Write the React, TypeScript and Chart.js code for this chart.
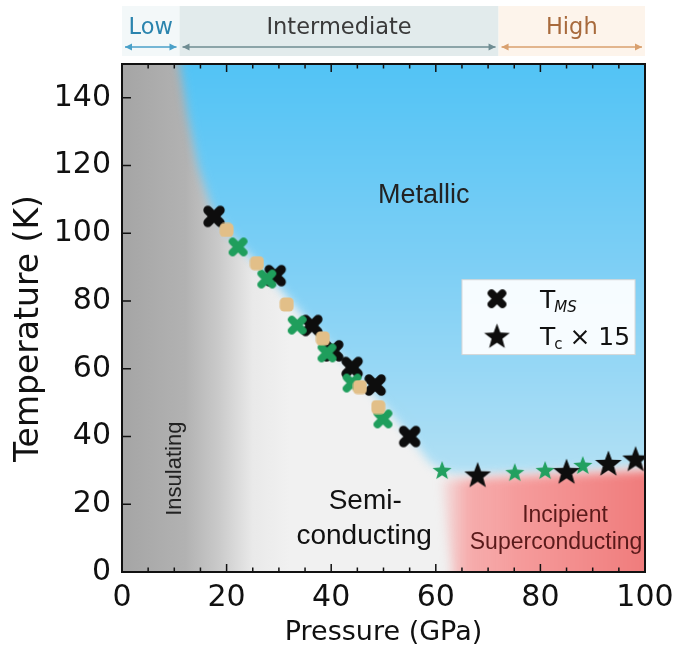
import React, { useEffect, useRef } from 'react';
import { Chart, registerables } from 'chart.js';
Chart.register(...registerables);

// ---- data (Pressure GPa, Temperature K) ----
const tmsP = [17.6, 29.3, 36.3, 40.3, 44.0, 48.4, 55.0];
const tmsT = [105, 87.5, 72.8, 65.3, 60.4, 55.2, 40];
const greenXP = [22.2, 27.7, 33.5, 39.2, 44.0, 49.9];
const greenXT = [96, 86.5, 72.9, 64.7, 55.8, 45.2];
const tanP = [20.0, 25.8, 31.5, 38.4, 45.5, 49.0];
const tanT = [101, 91.2, 79, 69, 54.6, 48.7];
const tcP = [68, 85, 93, 98.2];
const tcT = [28.8, 29.8, 32.2, 33.5];
const greenStarP = [61.2, 75.1, 80.9, 88.1];
const greenStarT = [30.1, 29.5, 30.1, 31.6];

const xMajorTicks = [0, 20, 40, 60, 80, 100];
const xMinorTicks = [5, 10, 15, 25, 30, 35, 45, 50, 55, 65, 70, 75, 85, 90, 95];
const yMajorTicks = [0, 20, 40, 60, 80, 100, 120, 140];

// phase boundaries
const metalBoundP = [11, 12.5, 14.5, 17, 20, 24, 29, 36, 44, 49, 55, 59, 63, 70, 80, 90, 100];
const metalBoundT = [150, 135, 120, 108, 101, 94, 86, 73, 60, 51, 40, 32, 29, 29, 29.5, 30.5, 31.5];
const superBoundP = [63, 63, 70, 80, 90, 100];
const superBoundT = [0, 27, 27.8, 28.5, 29.2, 30];

const regimeNames = ['Low', 'Intermediate', 'High'];
const regimeStart = [0, 11, 72];
const regimeEnd = [11, 72, 100];

function makeX(size: number, color: string) {
  const c = document.createElement('canvas');
  c.width = size; c.height = size;
  const g = c.getContext('2d')!;
  g.strokeStyle = color; g.lineWidth = size * 0.37; g.lineCap = 'round';
  const a = size * 0.24, b = size * 0.76;
  g.beginPath(); g.moveTo(a, a); g.lineTo(b, b); g.moveTo(b, a); g.lineTo(a, b); g.stroke();
  return c;
}
function makeStar(size: number, color: string) {
  const c = document.createElement('canvas');
  c.width = size; c.height = size;
  const g = c.getContext('2d')!;
  const cx = size / 2, cy = size / 2 + size * 0.05, R = size * 0.5, r = R * 0.42;
  g.fillStyle = color; g.beginPath();
  for (let i = 0; i < 10; i++) {
    const ang = -Math.PI / 2 + i * Math.PI / 5;
    const rad = i % 2 ? r : R;
    const px = cx + rad * Math.cos(ang), py = cy + rad * Math.sin(ang);
    if (i === 0) g.moveTo(px, py); else g.lineTo(px, py);
  }
  g.closePath(); g.fill();
  return c;
}
function makeSquare(size: number, color: string) {
  const c = document.createElement('canvas');
  c.width = size; c.height = size;
  const g = c.getContext('2d')!;
  g.fillStyle = color; g.beginPath();
  (g as any).roundRect(0.5, 0.5, size - 1, size - 1, size * 0.3);
  g.fill();
  return c;
}

export default function App() {
  const ref = useRef<HTMLCanvasElement>(null);
  useEffect(() => {
    const canvas = ref.current!;
    const blackX = makeX(24, '#0d0d0d');
    const greenX = makeX(21, '#1f9e5c');
    const tanSq = makeSquare(15, '#e2bf88');
    const blackStar = makeStar(28, '#0d0d0d');
    const greenStar = makeStar(20, '#22a060');
    const legendX = makeX(21, '#0d0d0d');
    const legendStar = makeStar(27, '#0d0d0d');

    const bgPlugin = {
      id: 'bg',
      beforeDatasetsDraw(chart: any) {
        const { ctx, chartArea: ca, scales: { x, y } } = chart;
        const X = (v: number) => x.getPixelForValue(v);
        const Y = (v: number) => y.getPixelForValue(v);
        ctx.save();
        ctx.beginPath(); ctx.rect(ca.left, ca.top, ca.right - ca.left, ca.bottom - ca.top); ctx.clip();
        // grey insulating -> light semiconducting
        const gg = ctx.createLinearGradient(X(0), 0, X(32), 0);
        gg.addColorStop(0, '#a5a5a5');
        gg.addColorStop(0.38, '#b2b2b2');
        gg.addColorStop(0.58, '#cacaca');
        gg.addColorStop(0.78, '#e9e9e9');
        gg.addColorStop(1, '#f1f1f1');
        ctx.fillStyle = gg;
        ctx.fillRect(ca.left - 20, ca.top - 20, ca.right - ca.left + 40, ca.bottom - ca.top + 40);
        // metallic
        ctx.filter = 'blur(5px)';
        const bg = ctx.createLinearGradient(0, Y(150), 0, Y(28));
        bg.addColorStop(0, '#52c3f5');
        bg.addColorStop(0.5, '#7ecff5');
        bg.addColorStop(1, '#b2e0f4');
        ctx.fillStyle = bg;
        ctx.beginPath();
        ctx.moveTo(X(metalBoundP[0]), Y(metalBoundT[0]) - 30);
        for (let i = 0; i < metalBoundP.length; i++) ctx.lineTo(X(metalBoundP[i]), Y(metalBoundT[i]));
        ctx.lineTo(X(100) + 30, Y(metalBoundT[metalBoundT.length - 1]));
        ctx.lineTo(X(100) + 30, Y(150) - 30);
        ctx.closePath(); ctx.fill();
        // superconducting
        const rg = ctx.createLinearGradient(X(60), 0, X(100), 0);
        rg.addColorStop(0, 'rgba(246,165,165,0)');
        rg.addColorStop(0.15, 'rgba(246,165,165,0.9)');
        rg.addColorStop(0.4, '#f59b9b');
        rg.addColorStop(1, '#f07c7c');
        ctx.fillStyle = rg;
        ctx.beginPath();
        ctx.moveTo(X(superBoundP[0]) - 10, Y(superBoundT[0]) + 30);
        for (let i = 0; i < superBoundP.length; i++) ctx.lineTo(X(superBoundP[i]) - (i === 1 ? 10 : 0), Y(superBoundT[i]));
        ctx.lineTo(X(100) + 30, Y(superBoundT[superBoundT.length - 1]));
        ctx.lineTo(X(100) + 30, Y(0) + 30);
        ctx.closePath(); ctx.fill();
        ctx.filter = 'none';
        // region labels
        ctx.fillStyle = '#222';
        ctx.textAlign = 'center'; ctx.textBaseline = 'middle';
        ctx.font = '27px "Liberation Sans"';
        ctx.fillText('Metallic', X(57.7), Y(111.3));
        ctx.font = '28px "Liberation Sans"';
        ctx.fillStyle = '#111';
        ctx.fillText('Semi-', X(46.5), Y(20.8));
        ctx.fillText('conducting', X(46.3), Y(10.4));
        ctx.fillStyle = '#5a1a1a';
        ctx.font = '23px "Liberation Sans"';
        ctx.fillText('Incipient', X(84.7), Y(16.6));
        ctx.fillText('Superconducting', X(83), Y(8.6));
        ctx.save();
        ctx.fillStyle = '#222';
        ctx.font = '22px "Liberation Sans"';
        ctx.translate(X(10.1), Y(30.5));
        ctx.rotate(-Math.PI / 2);
        ctx.fillText('Insulating', 0, 0);
        ctx.restore();
        ctx.restore();
      },
      afterDraw(chart: any) {
        const { ctx, chartArea: ca, scales: { x, y } } = chart;
        const X = (v: number) => x.getPixelForValue(v);
        const Y = (v: number) => y.getPixelForValue(v);
        ctx.save();
        // ticks
        ctx.strokeStyle = '#111'; ctx.lineWidth = 1.5;
        ctx.beginPath();
        xMajorTicks.forEach(v => {
          ctx.moveTo(X(v), ca.bottom); ctx.lineTo(X(v), ca.bottom - 8);
          ctx.moveTo(X(v), ca.top); ctx.lineTo(X(v), ca.top + 8);
        });
        xMinorTicks.forEach(v => {
          ctx.moveTo(X(v), ca.bottom); ctx.lineTo(X(v), ca.bottom - 4.5);
          ctx.moveTo(X(v), ca.top); ctx.lineTo(X(v), ca.top + 4.5);
        });
        yMajorTicks.forEach(v => {
          ctx.moveTo(ca.left, Y(v)); ctx.lineTo(ca.left + 9, Y(v));
        });
        ctx.stroke();
        // frame
        ctx.lineWidth = 2;
        ctx.strokeRect(ca.left, ca.top, ca.right - ca.left, ca.bottom - ca.top);

        // top regime bar
        const bgCols = ['#f3f8f9', '#e2ebec', '#fdf4eb'];
        const txtCols = ['#2a84ae', '#3a3a3a', '#a86a3c'];
        const arrCols = ['#4aa0c8', '#6e8c92', '#d9a06e'];
        for (let i = 0; i < regimeNames.length; i++) {
          const x0 = X(regimeStart[i]), x1 = X(regimeEnd[i]);
          ctx.fillStyle = bgCols[i];
          ctx.fillRect(x0, 6, x1 - x0, 50);
          ctx.fillStyle = txtCols[i];
          ctx.font = '22.5px "DejaVu Sans"';
          ctx.textAlign = 'center'; ctx.textBaseline = 'middle';
          ctx.fillText(regimeNames[i], (x0 + x1) / 2, 28);
          const a0 = x0 + 3, a1 = x1 - 3, ay = 47;
          ctx.strokeStyle = arrCols[i]; ctx.fillStyle = arrCols[i]; ctx.lineWidth = 1.3;
          ctx.beginPath(); ctx.moveTo(a0, ay); ctx.lineTo(a1, ay); ctx.stroke();
          ctx.beginPath(); ctx.moveTo(a0, ay); ctx.lineTo(a0 + 7, ay - 3.5); ctx.lineTo(a0 + 7, ay + 3.5); ctx.closePath(); ctx.fill();
          ctx.beginPath(); ctx.moveTo(a1, ay); ctx.lineTo(a1 - 7, ay - 3.5); ctx.lineTo(a1 - 7, ay + 3.5); ctx.closePath(); ctx.fill();
        }

        // legend
        const lx0 = X(65), ly0 = Y(86.3), lx1 = X(98.1), ly1 = Y(64.2);
        ctx.fillStyle = 'rgba(255,255,255,0.93)';
        ctx.fillRect(lx0, ly0, lx1 - lx0, ly1 - ly0);
        ctx.strokeStyle = '#d6d6d6'; ctx.lineWidth = 1;
        ctx.strokeRect(lx0, ly0, lx1 - lx0, ly1 - ly0);
        const mx = lx0 + 35, r1 = ly0 + 19, r2 = ly0 + 56;
        ctx.drawImage(legendX, mx - legendX.width / 2, r1 - legendX.height / 2);
        ctx.drawImage(legendStar, mx - legendStar.width / 2, r2 - legendStar.height / 2);
        ctx.fillStyle = '#111';
        ctx.textAlign = 'left'; ctx.textBaseline = 'alphabetic';
        const tx = lx0 + 78;
        ctx.font = '25px "DejaVu Sans"';
        ctx.fillText('T', tx, r1 + 9);
        let w = ctx.measureText('T').width;
        ctx.font = 'italic 15px "DejaVu Sans"';
        ctx.fillText('MS', tx + w - 1, r1 + 13);
        ctx.font = '25px "DejaVu Sans"';
        ctx.fillText('T', tx, r2 + 9);
        ctx.font = '15px "DejaVu Sans"';
        ctx.fillText('c', tx + w - 1, r2 + 13);
        const wc = ctx.measureText('c').width;
        ctx.font = '25px "DejaVu Sans"';
        ctx.fillText('\u00d7 15', tx + w + wc + 6, r2 + 9);
        ctx.restore();
      }
    };

    const tickFont = { family: '"DejaVu Sans"', size: 30, lineHeight: 1 };
    const xTitleFont = { family: '"DejaVu Sans"', size: 27, lineHeight: 1 };
    const yTitleFont = { family: '"DejaVu Sans"', size: 33, lineHeight: 1 };
    const pts = (P: number[], T: number[]) => P.map((p, i) => ({ x: p, y: T[i] }));
    const chart = new Chart(canvas, {
      type: 'scatter',
      data: {
        datasets: [
          { label: 'tan', data: pts(tanP, tanT), pointStyle: tanSq as any, pointRadius: 8, order: 1 },
          { label: 'green X', data: pts(greenXP, greenXT), pointStyle: greenX as any, pointRadius: 10, order: 2 },
          { label: 'T_MS', data: pts(tmsP, tmsT), pointStyle: blackX as any, pointRadius: 11, order: 3 },
          { label: 'green star', data: pts(greenStarP, greenStarT), pointStyle: greenStar as any, pointRadius: 10, order: 5 },
          { label: 'Tc x 15', data: pts(tcP, tcT), pointStyle: blackStar as any, pointRadius: 13, order: 4 },
        ]
      },
      options: {
        animation: false,
        responsive: false,
        maintainAspectRatio: false,
        layout: { padding: { top: 64, right: 31, left: 0, bottom: 0 } },
        plugins: { legend: { display: false }, tooltip: { enabled: false } },
        scales: {
          x: {
            type: 'linear', min: 0, max: 100,
            afterBuildTicks: (s: any) => { s.ticks = xMajorTicks.map(v => ({ value: v })); },
            afterFit: (s: any) => { s.height = 77; s.paddingLeft = 0; s.paddingRight = 0; },
            grid: { display: false, drawTicks: false },
            border: { display: false },
            ticks: { font: tickFont, color: '#111', padding: 11, maxRotation: 0, autoSkip: false },
            title: { display: true, text: 'Pressure (GPa)', font: xTitleFont, color: '#111', padding: { top: 0, bottom: 3 } },
          },
          y: {
            type: 'linear', min: 0, max: 150,
            afterBuildTicks: (s: any) => { s.ticks = yMajorTicks.map(v => ({ value: v })); },
            afterFit: (s: any) => { s.width = 122; s.paddingTop = 0; s.paddingBottom = 0; },
            grid: { display: false, drawTicks: false },
            border: { display: false },
            ticks: { font: tickFont, color: '#111', padding: 11, autoSkip: false },
            title: { display: true, text: 'Temperature (K)  ', font: yTitleFont, color: '#111', padding: { top: 13, bottom: 0 } },
          }
        }
      },
      plugins: [bgPlugin]
    });
    return () => chart.destroy();
  }, []);
  return (
    <div style={{ position: 'absolute', left: 0, top: 0, width: 676, height: 649, background: '#fff' }}>
      <canvas ref={ref} width={676} height={649} style={{ width: 676, height: 649, display: 'block' }} />
    </div>
  );
}
